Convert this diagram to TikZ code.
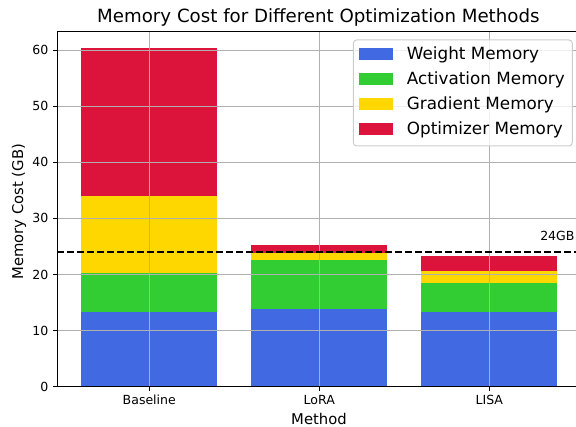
\documentclass[tikz,border=0pt]{standalone}
\usepackage{fontspec}
\setmainfont{DejaVu Sans}
\definecolor{wcol}{RGB}{65,105,225}
\definecolor{acol}{RGB}{50,205,50}
\definecolor{gcol}{RGB}{255,215,0}
\definecolor{ocol}{RGB}{220,20,60}
\definecolor{gridgray}{HTML}{B0B0B0}
\definecolor{legedge}{HTML}{CCCCCC}
\tikzset{
  gridline/.style={draw=gridgray, line width=0.75pt},
  spine/.style={draw=black, line width=0.75pt},
  tickmark/.style={draw=black, line width=0.75pt},
  thresh/.style={draw=black, line width=1.4pt, dash pattern=on 5.2pt off 2.25pt},
  ticklabel/.style={inner sep=0pt, font=\fontsize{9.4pt}{11pt}\selectfont},
  axlabel/.style={inner sep=0pt, font=\fontsize{11.1pt}{13pt}\selectfont},
  legtext/.style={inner sep=0pt, anchor=base west, font=\fontsize{12.6pt}{15pt}\selectfont},
}
\begin{document}
\begin{tikzpicture}[x=0.75pt,y=-0.75pt]
\useasboundingbox (0,0) rectangle (576,427);
\clip (0,0) rectangle (576,427);
\node[inner sep=0pt, anchor=base, font=\fontsize{13.65pt}{16pt}\selectfont] (title) at (318.4,22.7) {Memory Cost for Different Optimization Methods};
\begin{scope}[shift={(149.3,386.7)}, x=127.5pt, y=4.2075pt]
  % bars
  \foreach \i/\a/\b/\c/\d in {0/13.37/20.2/34.05/60.4, 1/13.85/22.6/23.9/25.26, 2/13.37/18.5/20.6/23.3}{
    \fill[wcol] (\i-0.4,0) rectangle (\i+0.4,\a);
    \fill[acol] (\i-0.4,\a) rectangle (\i+0.4,\b);
    \fill[gcol] (\i-0.4,\b) rectangle (\i+0.4,\c);
    \fill[ocol] (\i-0.4,\c) rectangle (\i+0.4,\d);
  }
  % grid
  \foreach \v in {0,10,...,60}{
    \draw[gridline] (-0.54,\v) -- (2.54,\v);
  }
  \foreach \i in {0,1,2}{
    \draw[gridline] (\i,0) -- (\i,63.4);
  }
  % threshold
  \draw[thresh] (-0.54,24) -- (2.54,24);
  % spines
  \draw[spine] (2.54,63.4) -- (-0.54,63.4) -- (-0.54,0) -- (2.54,0);
  % y ticks
  \foreach \v in {0,10,...,60}{
    \draw[tickmark] (-0.54,\v) -- ++(-3.3pt,0pt);
    \node[ticklabel, anchor=east, xshift=-6.6pt] (yt\v) at (-0.54,\v) {\v};
  }
  % x ticks
  \foreach \i/\t in {0/Baseline,1/LoRA,2/LISA}{
    \draw[tickmark] (\i,0) -- ++(0pt,-3.3pt);
    \node[ticklabel, anchor=base, yshift=-13.7pt] (xt\i) at (\i,0) {\t};
  }
\end{scope}
\node[ticklabel, anchor=base west] (gblabel) at (540,240.7) {24GB};
\node[axlabel, anchor=base] (xlabel) at (319,424.6) {Method};
\node[axlabel, anchor=base, rotate=90] (ylabel) at (23,211.7) {Memory Cost (GB)};
% legend
\draw[draw=legedge, fill=white, fill opacity=0.8, line width=0.75pt, rounded corners=2.5pt] (353.3,40) rectangle (572.3,146);
\foreach \k/\c/\t in {0/wcol/Weight Memory,1/acol/Activation Memory,2/gcol/Gradient Memory,3/ocol/Optimizer Memory}{
  \fill[\c] (359.3,54+25*\k-6) rectangle (393.3,54+25*\k+6);
  \node[legtext] (leg\k) at (406.7,59.9+25*\k) {\t};
}
\end{tikzpicture}
\end{document}
